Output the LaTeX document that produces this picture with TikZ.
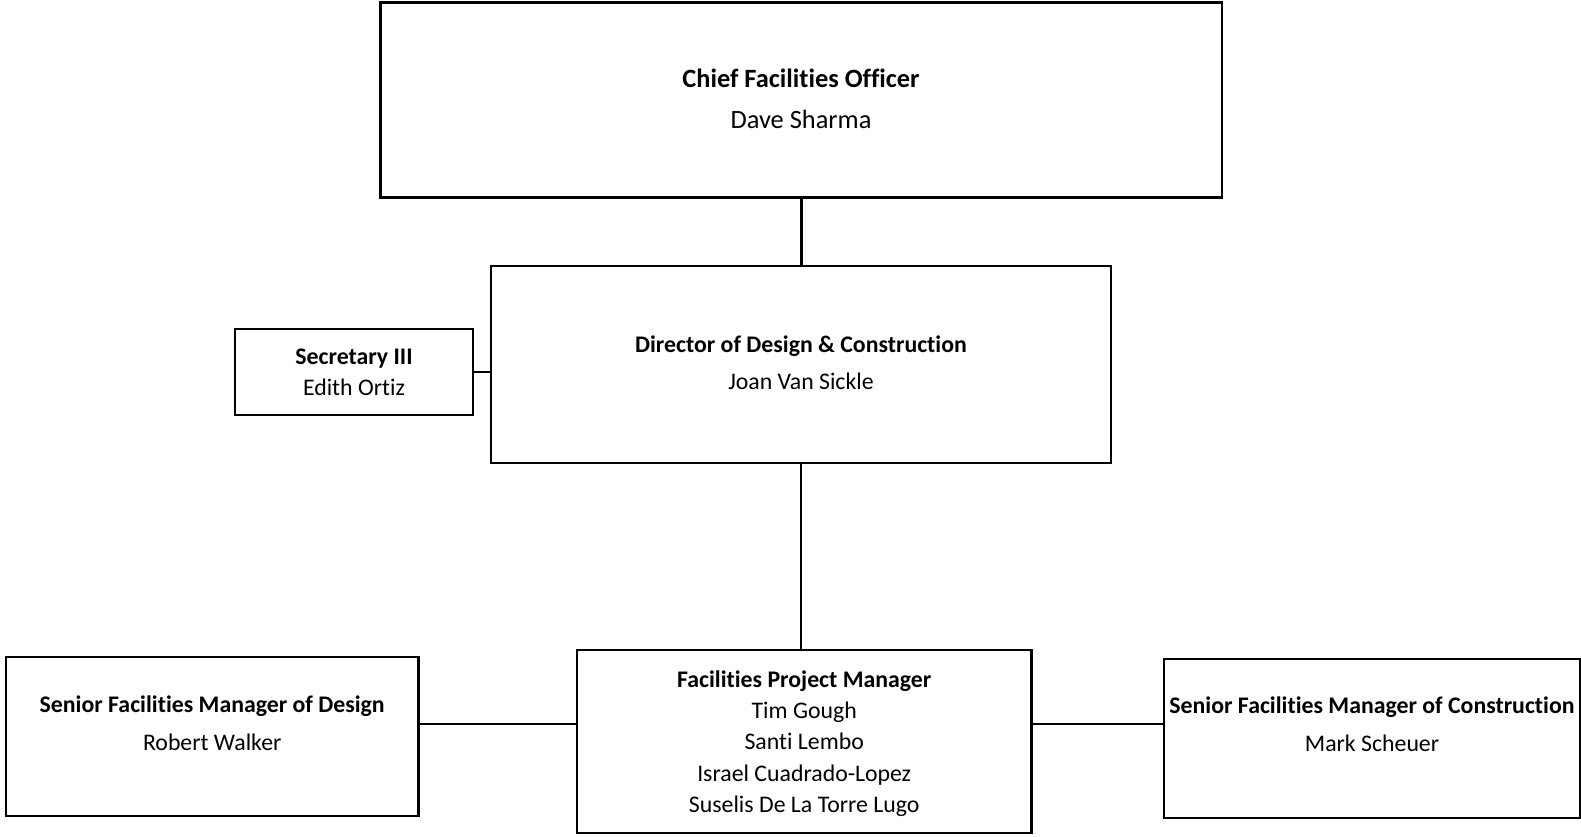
\documentclass[tikz,border=0pt]{standalone}
\usepackage{fontspec}
\setmainfont{Carlito}[RawFeature={-liga}]
\usepackage{tikz}

\tikzset{box/.style={draw, line width=2.7pt, inner sep=0pt}}
\tikzstyle{txt} = [inner sep=0pt, anchor=base, font=\fontsize{23.8}{28}\selectfont]
\tikzstyle{bigtxt} = [inner sep=0pt, anchor=base, font=\fontsize{26.4}{31}\selectfont]
\tikzstyle{link} = [line width=2.7pt]

\begin{document}
\begin{tikzpicture}[x=1pt,y=-1pt]
\useasboundingbox (0,0) rectangle (1581,836);

% boxes
\node[box, minimum width=841.5pt, minimum height=195pt] (cfo) at (801.2,100) {};
\node[box, minimum width=620pt, minimum height=197pt] (dir) at (801,364.5) {};
\node[box, minimum width=238pt, minimum height=86pt] (sec) at (354,372) {};
\node[box, minimum width=454.5pt, minimum height=183pt] (fpm) at (804.2,741.5) {};
\node[box, minimum width=412.5pt, minimum height=159pt] (des) at (212.2,736.5) {};
\node[box, minimum width=416pt, minimum height=159pt] (con) at (1372,738.5) {};

% texts
\node[bigtxt] (cfo-title) at (801,87) {\bfseries Chief Facilities Officer};
\node[bigtxt] (cfo-name) at (801,128) {Dave Sharma};
\node[txt] (dir-title) at (801,352) {\bfseries Director of Design \& Construction};
\node[txt] (dir-name) at (801,389) {Joan Van Sickle};
\node[txt] (sec-title) at (354,364) {\bfseries Secretary III};
\node[txt] (sec-name) at (354,395) {Edith Ortiz};
\node[txt] (des-title) at (212.2,712) {\bfseries Senior Facilities Manager of Design};
\node[txt] (des-name) at (212.2,750) {Robert Walker};
\node[txt] (con-title) at (1372,713) {\bfseries Senior Facilities Manager of Construction};
\node[txt] (con-name) at (1372,751) {Mark Scheuer};
\node[txt] (fpm-title) at (804.2,687) {\bfseries Facilities Project Manager};
\foreach \who [count=\i] in {Tim Gough, Santi Lembo, Israel Cuadrado-Lopez, Suselis De La Torre Lugo}
  \node[txt] (fpm-\i) at (804.2,686.5+31.6*\i) {\who};

% connectors
\coordinate (mid) at (804,724);
\draw[link] (cfo.south) -- (cfo.south |- dir.north);
\draw[link] (dir.south) -- (dir.south |- fpm.north);
\draw[link] (sec.east) -- (sec.east -| dir.west);
\draw[link] (des.east |- mid) -- (fpm.west |- mid);
\draw[link] (fpm.east |- mid) -- (con.west |- mid);
\end{tikzpicture}
\end{document}
